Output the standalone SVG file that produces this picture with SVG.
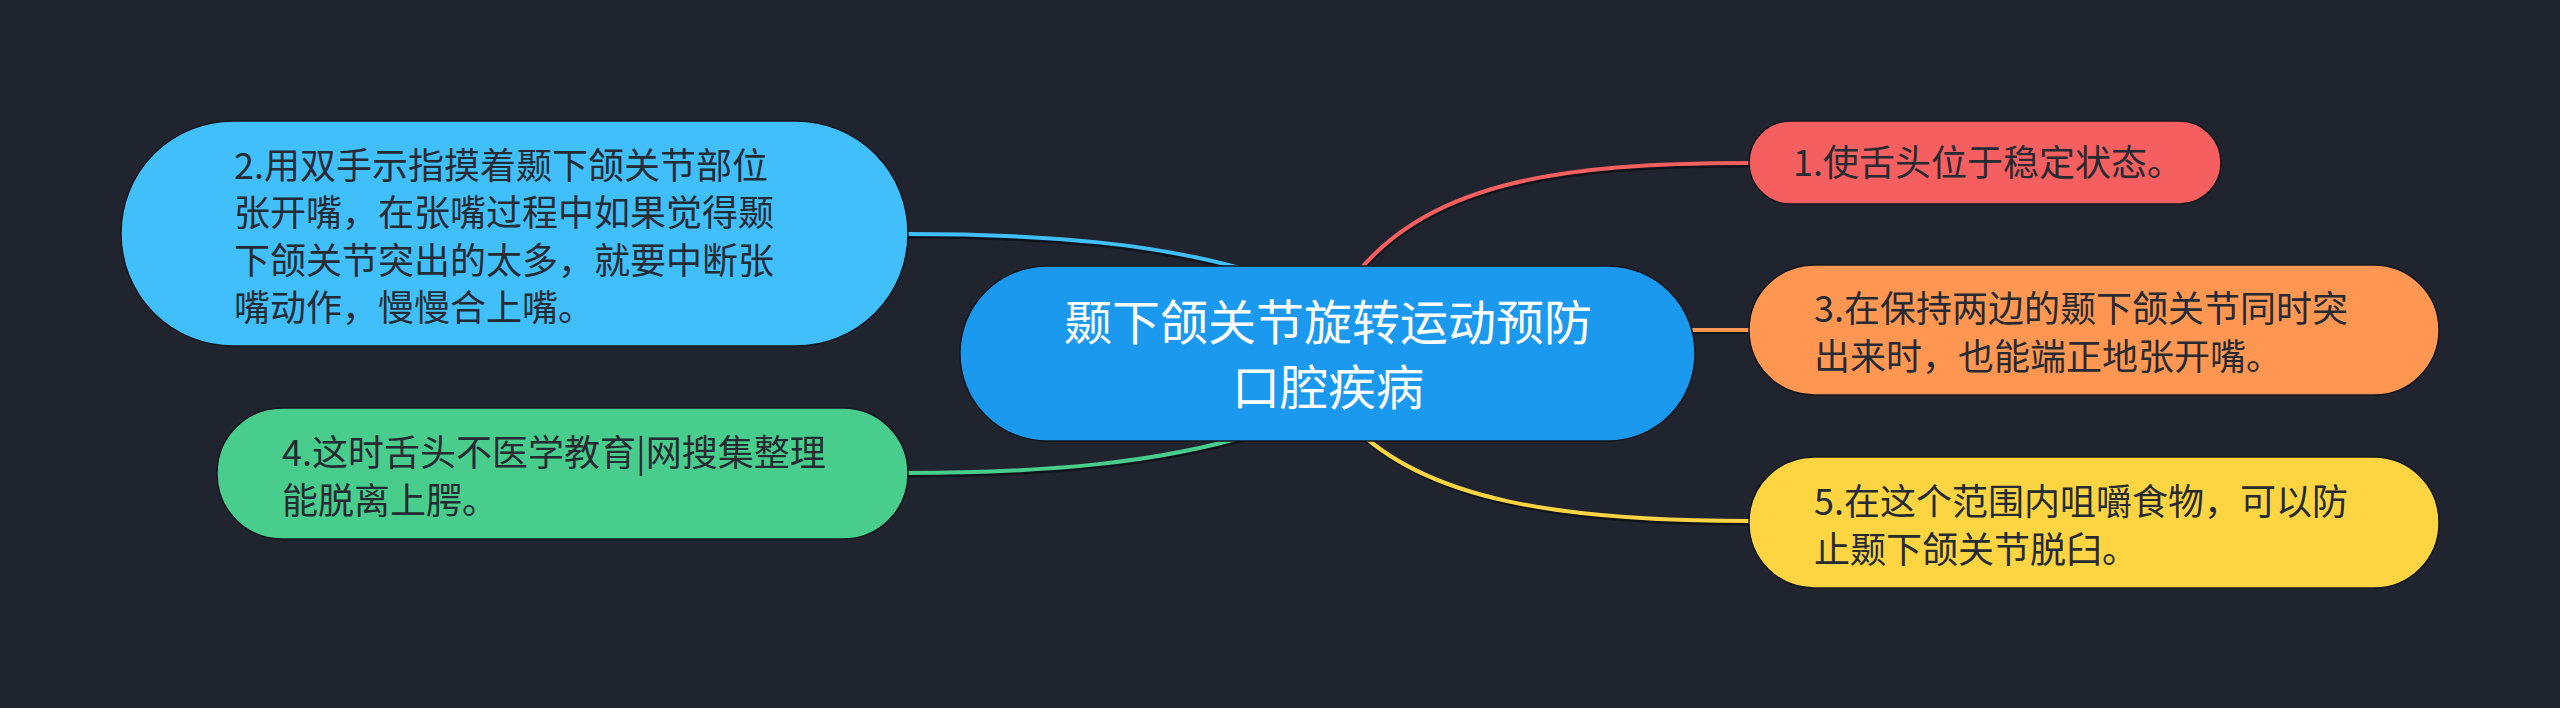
<svg xmlns="http://www.w3.org/2000/svg" width="2560" height="708" viewBox="0 0 2560 708">
<style>
.bg{fill:#20242f}
.lnsh{fill:none;stroke:#0d0f15;stroke-width:4;stroke-opacity:0.8}
.ln{fill:none;stroke-width:4}
.node{stroke:#15171e;stroke-width:1.5}
.t{font-family:"Noto Sans CJK SC","Noto Sans",sans-serif;font-size:36px;fill:#262a33}
.tc{font-family:"Noto Sans CJK SC","Noto Sans",sans-serif;font-size:48px;fill:#ffffff;text-anchor:middle}
</style>
<rect class="bg" x="0" y="0" width="2560" height="708"/>
<g id="connectors">
  <path class="lnsh" d="M1345 290 C1420 182 1560 164 1750 164" transform="translate(0,1.5)"/>
  <path class="ln" stroke="#f65f5f" d="M1345 290 C1420 182 1560 164 1750 164" transform="translate(0,-1)"/>
  <path class="lnsh" d="M905 235 C1050 235 1160 245 1250 272" transform="translate(0,1.5)"/>
  <path class="ln" stroke="#40bffb" d="M905 234 C1050 234 1160 244 1250 271"/>
  <path class="lnsh" d="M905 474 C1050 474 1160 463 1250 436" transform="translate(0,1.5)"/>
  <path class="ln" stroke="#48cd8d" d="M905 473 C1050 473 1160 462 1250 435"/>
  <path class="lnsh" d="M1690 331 L1750 331" transform="translate(0,1)"/>
  <path class="ln" stroke="#ff9752" d="M1690 330 L1750 330"/>
  <path class="lnsh" d="M1352 425 C1425 500 1560 522 1750 522" transform="translate(0,1.5)"/>
  <path class="ln" stroke="#fdd542" d="M1352 425 C1425 500 1560 521 1750 521"/>
</g>
<g id="root">
  <rect class="node" x="960" y="266" width="735" height="175" rx="87" ry="87" fill="#1a99ef"/>
  <text class="tc" x="1328" y="340">颞下颌关节旋转运动预防</text>
  <text class="tc" x="1328" y="405">口腔疾病</text>
</g>
<g id="node1">
  <rect class="node" x="1749" y="121" width="472" height="83" rx="41.5" ry="41.5" fill="#f65f5f"/>
  <text class="t" x="1793" y="176">1.使舌头位于稳定状态。</text>
</g>
<g id="node2">
  <rect class="node" x="121" y="121" width="787" height="225" rx="112" ry="112" fill="#40bffb"/>
  <text class="t" x="234" y="179">2.用双手示指摸着颞下颌关节部位</text>
  <text class="t" x="234" y="226">张开嘴，在张嘴过程中如果觉得颞</text>
  <text class="t" x="234" y="274">下颌关节突出的太多，就要中断张</text>
  <text class="t" x="234" y="321">嘴动作，慢慢合上嘴。</text>
</g>
<g id="node3">
  <rect class="node" x="1749" y="265" width="690" height="130" rx="65" ry="65" fill="#ff9752"/>
  <text class="t" x="1814" y="322">3.在保持两边的颞下颌关节同时突</text>
  <text class="t" x="1814" y="370">出来时，也能端正地张开嘴。</text>
</g>
<g id="node4">
  <rect class="node" x="217" y="408" width="691" height="131" rx="65" ry="65" fill="#48cd8d"/>
  <text class="t" x="282" y="466">4.这时舌头不医学教育|网搜集整理</text>
  <text class="t" x="282" y="514">能脱离上腭。</text>
</g>
<g id="node5">
  <rect class="node" x="1749" y="457" width="690" height="131" rx="65" ry="65" fill="#fdd542"/>
  <text class="t" x="1814" y="515">5.在这个范围内咀嚼食物，可以防</text>
  <text class="t" x="1814" y="563">止颞下颌关节脱臼。</text>
</g>
</svg>
